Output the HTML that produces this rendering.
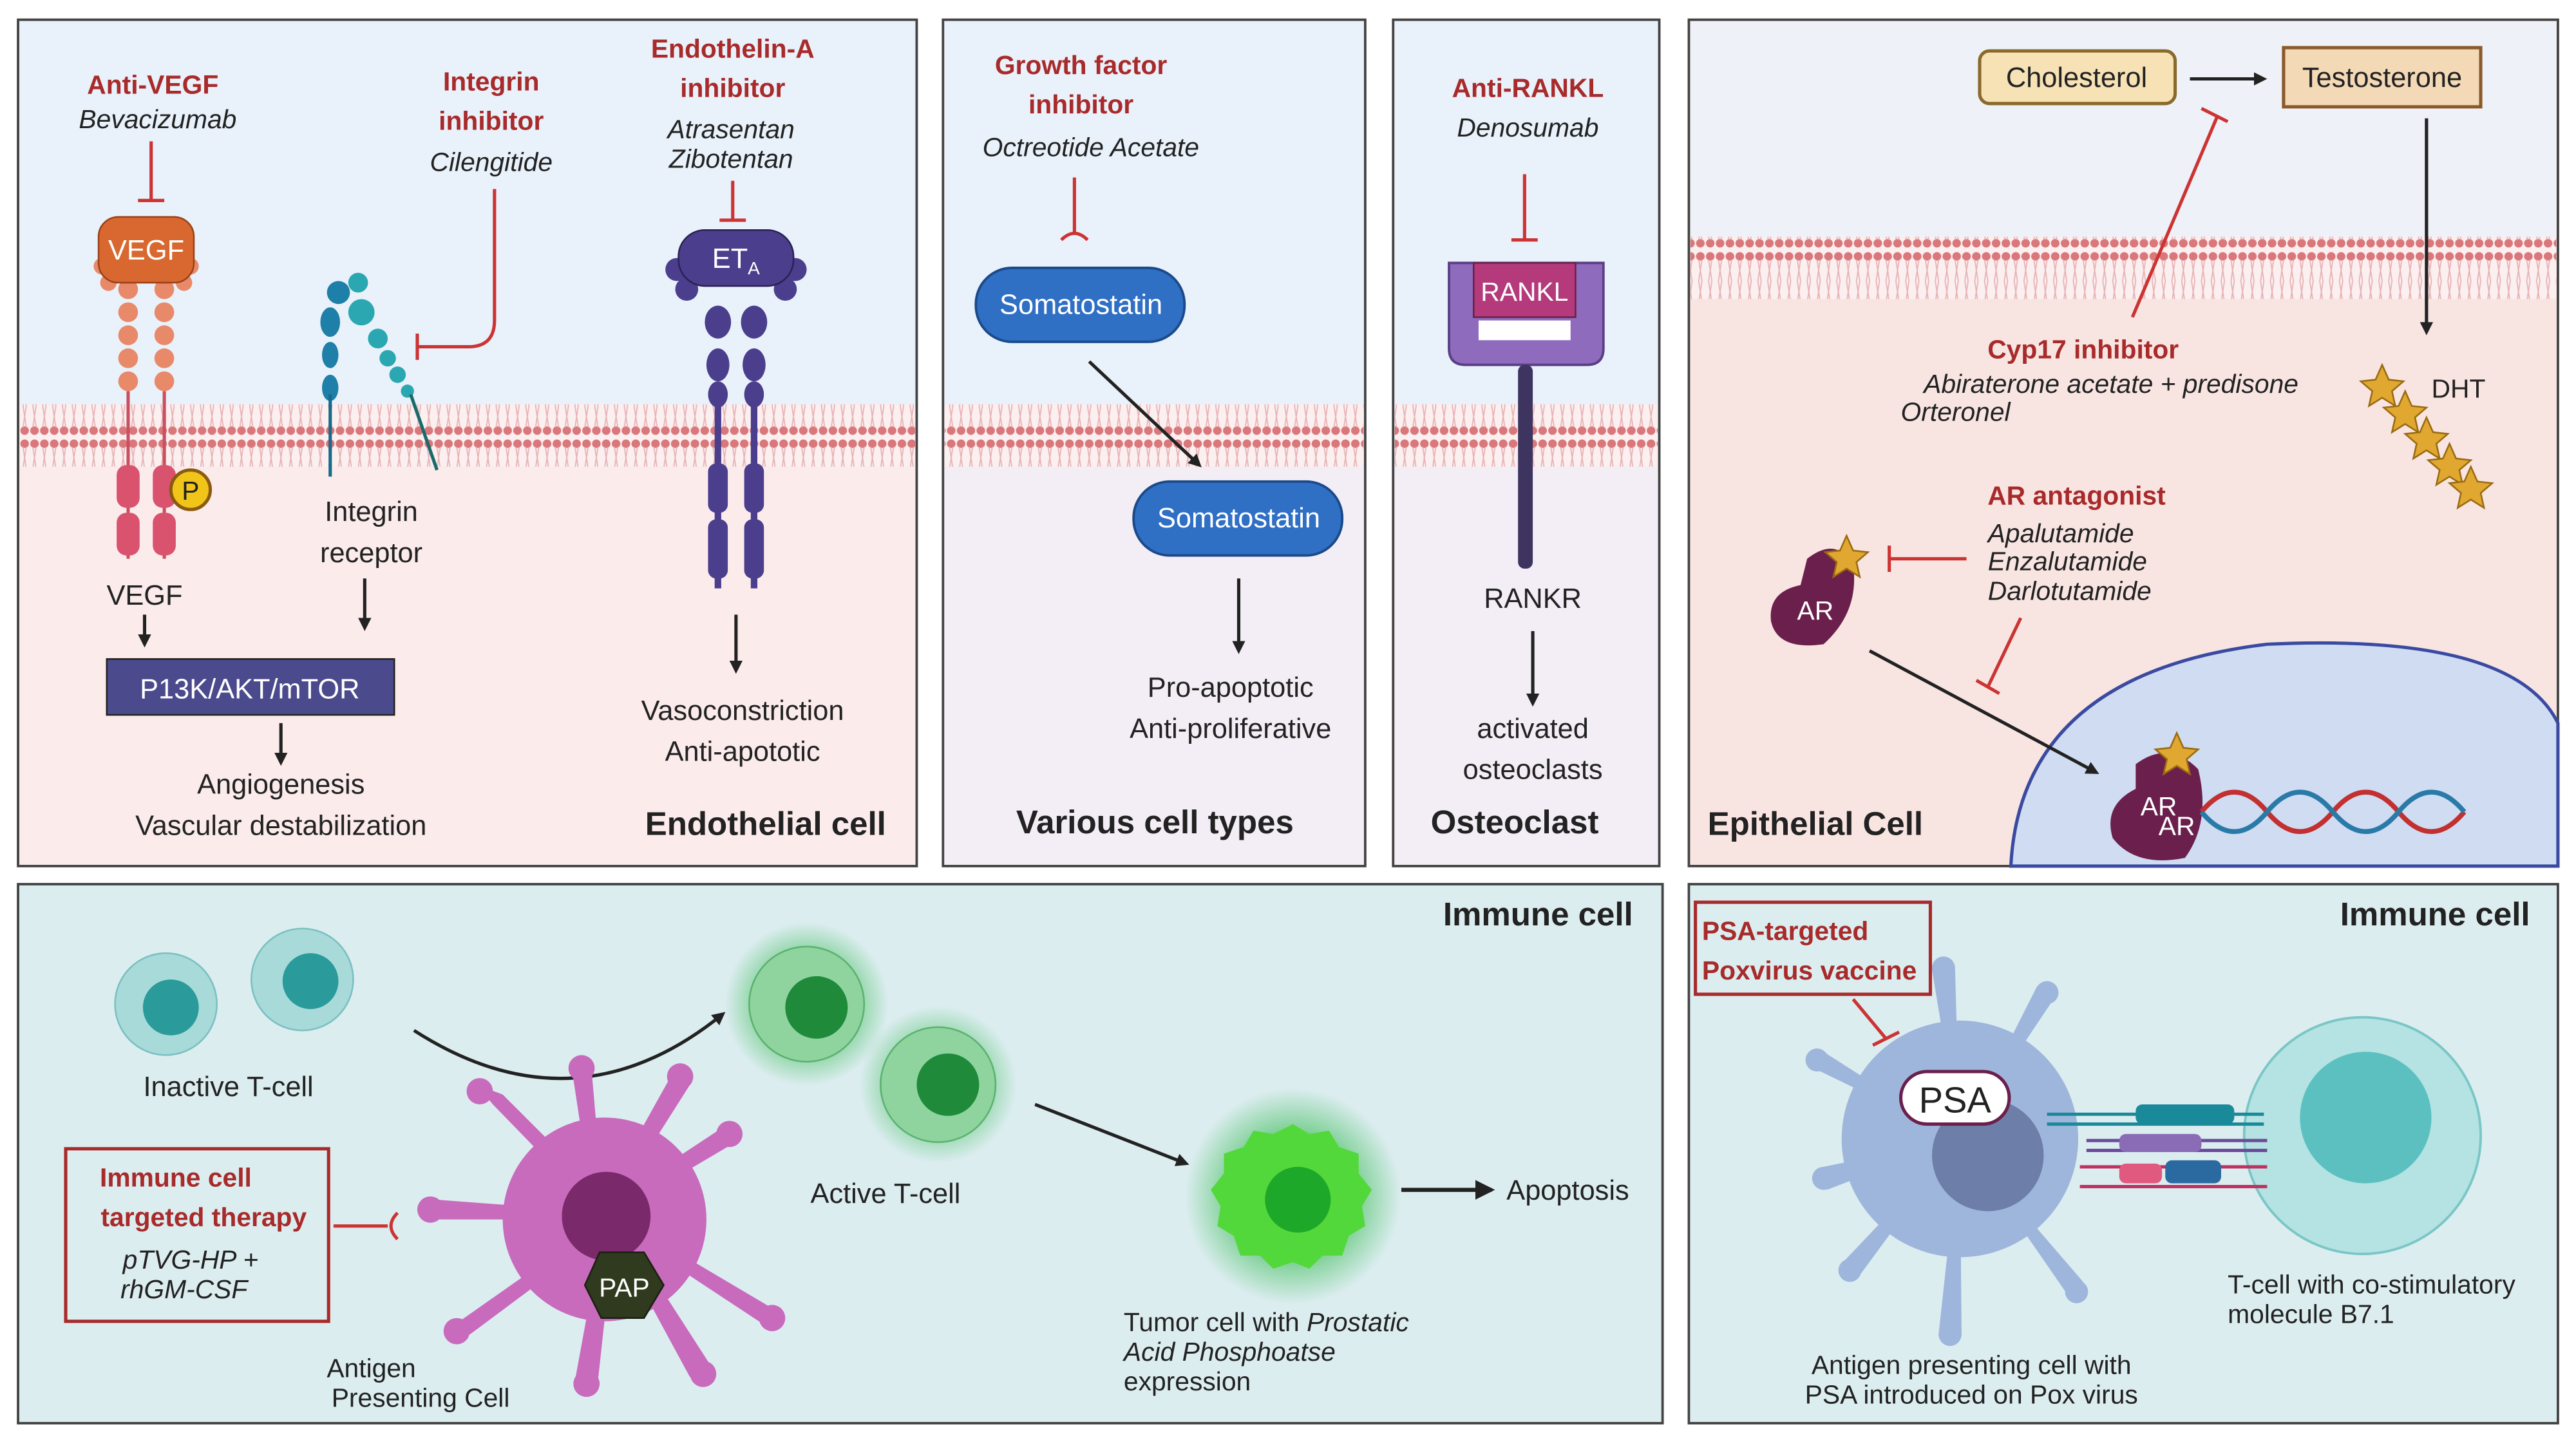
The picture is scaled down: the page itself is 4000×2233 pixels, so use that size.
<!DOCTYPE html>
<html><head><meta charset="utf-8"><style>
html,body{margin:0;padding:0;background:#fff}
svg{display:block}
text{font-family:"Liberation Sans",sans-serif}
.r{fill:#a82a2a;font-weight:bold;font-size:16px}
.i{font-style:italic;font-size:16px;fill:#222}
.t{font-size:17px;fill:#222}
.b{font-weight:bold;font-size:20px;fill:#222}
</style></head><body>
<svg width="4000" height="2233" viewBox="0 0 1568 875" preserveAspectRatio="none" xmlns="http://www.w3.org/2000/svg">
<defs>
<pattern id="mem" width="6" height="38" patternUnits="userSpaceOnUse">
<rect width="6" height="38" fill="#fbeff0"/>
<circle cx="3" cy="4" r="2.6" fill="#d9777a"/>
<circle cx="3" cy="34" r="2.6" fill="#d9777a"/>
<path d="M2 6 L4 19 L2 32 M4 6 L2 19 L4 32" stroke="#e7b3b5" stroke-width="0.7" fill="none"/>
</pattern>
<marker id="ah" markerWidth="8" markerHeight="8" refX="6" refY="4" orient="auto" markerUnits="userSpaceOnUse"><path d="M0 0 L8 4 L0 8 z" fill="#222"/></marker>
<marker id="ah2" markerWidth="12" markerHeight="12" refX="10" refY="6" orient="auto" markerUnits="userSpaceOnUse"><path d="M0 0 L12 6 L0 12 z" fill="#222"/></marker>
<radialGradient id="glow"><stop offset="0.6" stop-color="#2fb84a"/><stop offset="1" stop-color="#2fb84a" stop-opacity="0"/></radialGradient>
</defs>

<!-- Panel 1 -->
<rect x="11" y="12" width="547" height="515" fill="#fbebeb" stroke="#444" stroke-width="1.5"/>
<rect x="12" y="13" width="545" height="234" fill="#e9f1fa"/>
<rect x="12" y="246" width="545" height="38" fill="url(#mem)"/>
<!-- Panel 2 -->
<rect x="574" y="12" width="257" height="515" fill="#f3eef6" stroke="#444" stroke-width="1.5"/>
<rect x="575" y="13" width="255" height="234" fill="#e9f1fa"/>
<rect x="575" y="246" width="255" height="38" fill="url(#mem)"/>
<!-- Panel 3 -->
<rect x="848" y="12" width="162" height="515" fill="#f3eef6" stroke="#444" stroke-width="1.5"/>
<rect x="849" y="13" width="160" height="234" fill="#e9f1fa"/>
<rect x="849" y="246" width="160" height="38" fill="url(#mem)"/>
<!-- Panel 4 -->
<rect x="1028" y="12" width="529" height="515" fill="#f8e5e2" stroke="#444" stroke-width="1.5"/>
<rect x="1029" y="13" width="527" height="132" fill="#eef2f8"/>
<rect x="1029" y="144" width="527" height="38" fill="url(#mem)"/>
<!-- Bottom panels -->
<rect x="11" y="538" width="1001" height="328" fill="#dcedf0" stroke="#444" stroke-width="1.5"/>
<rect x="1028" y="538" width="529" height="328" fill="#dcedf0" stroke="#444" stroke-width="1.5"/>

<!-- Panel 1 content -->
<text x="93" y="57" class="r" text-anchor="middle">Anti-VEGF</text>
<text x="96" y="78" class="i" text-anchor="middle">Bevacizumab</text>
<path d="M92 86 V122 M84 122 H100" stroke="#c33" stroke-width="2"/>
<g fill="#e8896a">
<circle cx="78" cy="176" r="6"/><circle cx="78" cy="190" r="6"/><circle cx="78" cy="204" r="6"/><circle cx="78" cy="218" r="6"/><circle cx="78" cy="232" r="6"/>
<circle cx="100" cy="176" r="6"/><circle cx="100" cy="190" r="6"/><circle cx="100" cy="204" r="6"/><circle cx="100" cy="218" r="6"/><circle cx="100" cy="232" r="6"/>
<circle cx="62" cy="162" r="5"/><circle cx="116" cy="162" r="5"/><circle cx="66" cy="172" r="5"/><circle cx="112" cy="172" r="5"/>
</g>
<rect x="60" y="132" width="58" height="40" rx="12" fill="#d8682f" stroke="#9a4218"/>
<text x="89" y="158" font-size="17" fill="#fff" text-anchor="middle">VEGF</text>
<path d="M78 238 V340 M100 238 V340" stroke="#c85060" stroke-width="2"/>
<rect x="71" y="283" width="14" height="26" rx="6" fill="#d9536f"/><rect x="71" y="312" width="14" height="26" rx="6" fill="#d9536f"/>
<rect x="93" y="283" width="14" height="26" rx="6" fill="#d9536f"/><rect x="93" y="312" width="14" height="26" rx="6" fill="#d9536f"/>
<circle cx="116" cy="298" r="12" fill="#f0c419" stroke="#8a5a10" stroke-width="2"/>
<text x="116" y="304" font-size="16" text-anchor="middle" fill="#222">P</text>
<text x="88" y="368" class="t" text-anchor="middle">VEGF</text>
<line x1="88" y1="374" x2="88" y2="392" stroke="#222" stroke-width="2" marker-end="url(#ah)"/>
<text x="299" y="55" class="r" text-anchor="middle">Integrin</text>
<text x="299" y="79" class="r" text-anchor="middle">inhibitor</text>
<text x="299" y="104" class="i" text-anchor="middle">Cilengitide</text>
<path d="M301 115 V195 Q301 211 285 211 H254 M254 203 V219" stroke="#c33" stroke-width="2" fill="none"/>
<g fill="#1e7fa8"><circle cx="206" cy="178" r="7"/><ellipse cx="201" cy="196" rx="6" ry="9"/><ellipse cx="201" cy="216" rx="5" ry="8"/><ellipse cx="201" cy="236" rx="5" ry="8"/></g>
<line x1="201" y1="240" x2="201" y2="290" stroke="#176a8a" stroke-width="2"/>
<g fill="#2aa7b0"><circle cx="218" cy="172" r="6"/><circle cx="220" cy="190" r="8"/><circle cx="230" cy="206" r="6"/><circle cx="236" cy="218" r="5"/><circle cx="242" cy="228" r="5"/><circle cx="248" cy="238" r="4"/></g>
<line x1="250" y1="240" x2="266" y2="286" stroke="#1a6a6a" stroke-width="2"/>
<text x="226" y="317" class="t" text-anchor="middle">Integrin</text>
<text x="226" y="342" class="t" text-anchor="middle">receptor</text>
<line x1="222" y1="352" x2="222" y2="382" stroke="#222" stroke-width="2" marker-end="url(#ah)"/>
<rect x="65" y="401" width="175" height="34" fill="#4b4a8c" stroke="#222"/>
<text x="152" y="425" font-size="17" fill="#fff" text-anchor="middle">P13K/AKT/mTOR</text>
<line x1="171" y1="440" x2="171" y2="464" stroke="#222" stroke-width="2" marker-end="url(#ah)"/>
<text x="171" y="483" class="t" text-anchor="middle">Angiogenesis</text>
<text x="171" y="508" class="t" text-anchor="middle">Vascular destabilization</text>
<text x="446" y="35" class="r" text-anchor="middle">Endothelin-A</text>
<text x="446" y="59" class="r" text-anchor="middle">inhibitor</text>
<text x="445" y="84" class="i" text-anchor="middle">Atrasentan</text>
<text x="445" y="102" class="i" text-anchor="middle">Zibotentan</text>
<path d="M446 110 V134 M438 134 H454" stroke="#c33" stroke-width="2"/>
<g fill="#4b3e8c">
<circle cx="412" cy="164" r="7"/><circle cx="484" cy="164" r="7"/><circle cx="418" cy="176" r="7"/><circle cx="478" cy="176" r="7"/>
<ellipse cx="437" cy="196" rx="8" ry="10"/><ellipse cx="459" cy="196" rx="8" ry="10"/>
<ellipse cx="437" cy="222" rx="7" ry="10"/><ellipse cx="459" cy="222" rx="7" ry="10"/>
<ellipse cx="437" cy="240" rx="6" ry="8"/><ellipse cx="459" cy="240" rx="6" ry="8"/>
<rect x="431" y="282" width="12" height="30" rx="5"/><rect x="453" y="282" width="12" height="30" rx="5"/>
<rect x="431" y="316" width="12" height="36" rx="5"/><rect x="453" y="316" width="12" height="36" rx="5"/>
</g>
<path d="M437 240 V358 M459 240 V358" stroke="#4b3e8c" stroke-width="4"/>
<rect x="413" y="140" width="70" height="34" rx="16" fill="#4b3e8c" stroke="#2a2255"/>
<text x="448" y="163" font-size="17" fill="#fff" text-anchor="middle">ET<tspan font-size="11" dy="4">A</tspan></text>
<line x1="448" y1="374" x2="448" y2="408" stroke="#222" stroke-width="2" marker-end="url(#ah)"/>
<text x="452" y="438" class="t" text-anchor="middle">Vasoconstriction</text>
<text x="452" y="463" class="t" text-anchor="middle">Anti-apototic</text>
<text x="466" y="508" class="b" text-anchor="middle">Endothelial cell</text>

<!-- Panel 2 -->
<text x="658" y="45" class="r" text-anchor="middle">Growth factor</text>
<text x="658" y="69" class="r" text-anchor="middle">inhibitor</text>
<text x="664" y="95" class="i" text-anchor="middle">Octreotide Acetate</text>
<path d="M654 108 V143 M646 146 Q654 138 662 146" stroke="#c33" stroke-width="2" fill="none"/>
<rect x="594" y="163" width="127" height="45" rx="22" fill="#2f6fc4" stroke="#1a4a8a" stroke-width="1.5"/>
<text x="658" y="191" font-size="17" fill="#fff" text-anchor="middle">Somatostatin</text>
<line x1="663" y1="220" x2="730" y2="283" stroke="#222" stroke-width="2" marker-end="url(#ah)"/>
<rect x="690" y="293" width="127" height="45" rx="22" fill="#2f6fc4" stroke="#1a4a8a" stroke-width="1.5"/>
<text x="754" y="321" font-size="17" fill="#fff" text-anchor="middle">Somatostatin</text>
<line x1="754" y1="352" x2="754" y2="396" stroke="#222" stroke-width="2" marker-end="url(#ah)"/>
<text x="749" y="424" class="t" text-anchor="middle">Pro-apoptotic</text>
<text x="749" y="449" class="t" text-anchor="middle">Anti-proliferative</text>
<text x="703" y="507" class="b" text-anchor="middle">Various cell types</text>

<!-- Panel 3 -->
<text x="930" y="59" class="r" text-anchor="middle">Anti-RANKL</text>
<text x="930" y="83" class="i" text-anchor="middle">Denosumab</text>
<path d="M928 106 V146 M920 146 H936" stroke="#c33" stroke-width="2"/>
<path d="M882 160 H976 V212 Q976 222 966 222 H892 Q882 222 882 212 Z" fill="#8e6bbd" stroke="#5a3f85" stroke-width="1.5"/>
<rect x="900" y="195" width="56" height="12" fill="#fff"/>
<rect x="897" y="160" width="62" height="33" fill="#b43a7c" stroke="#6b2048"/>
<text x="928" y="183" font-size="16" fill="#fff" text-anchor="middle">RANKL</text>
<rect x="924" y="222" width="9" height="124" rx="4" fill="#3d3560"/>
<text x="933" y="370" class="t" text-anchor="middle">RANKR</text>
<line x1="933" y1="384" x2="933" y2="428" stroke="#222" stroke-width="2" marker-end="url(#ah)"/>
<text x="933" y="449" class="t" text-anchor="middle">activated</text>
<text x="933" y="474" class="t" text-anchor="middle">osteoclasts</text>
<text x="922" y="507" class="b" text-anchor="middle">Osteoclast</text>

<!-- Panel 4 -->
<rect x="1205" y="31" width="119" height="32" rx="6" fill="#f7e2b6" stroke="#8a6a2a" stroke-width="2"/>
<text x="1264" y="53" font-size="17" fill="#222" text-anchor="middle">Cholesterol</text>
<line x1="1333" y1="48" x2="1378" y2="48" stroke="#222" stroke-width="2" marker-end="url(#ah)"/>
<rect x="1390" y="29" width="120" height="36" fill="#f4d9b7" stroke="#8a5a2a" stroke-width="2"/>
<text x="1450" y="53" font-size="17" fill="#222" text-anchor="middle">Testosterone</text>
<line x1="1477" y1="72" x2="1477" y2="202" stroke="#222" stroke-width="2" marker-end="url(#ah)"/>
<path d="M1298 193 L1350 70 M1340 66 L1356 74" stroke="#c33" stroke-width="2"/>
<text x="1268" y="218" class="r" text-anchor="middle">Cyp17 inhibitor</text>
<text x="1285" y="239" class="i" text-anchor="middle">Abiraterone acetate + predisone</text>
<text x="1157" y="256" class="i">Orteronel</text>
<g fill="#e0a830" stroke="#9a6a10">
<polygon points="1450,222 1454,231 1463,232 1456,238 1458,247 1450,242 1442,247 1444,238 1437,232 1446,231"/>
<polygon points="1464,238 1468,247 1477,248 1470,254 1472,263 1464,258 1456,263 1458,254 1451,248 1460,247"/>
<polygon points="1477,254 1481,263 1490,264 1483,270 1485,279 1477,274 1469,279 1471,270 1464,264 1473,263"/>
<polygon points="1491,270 1495,279 1504,280 1497,286 1499,295 1491,290 1483,295 1485,286 1478,280 1487,279"/>
<polygon points="1504,284 1508,293 1517,294 1510,300 1512,309 1504,304 1496,309 1498,300 1491,294 1500,293"/>
</g>
<text x="1480" y="242" font-size="16" fill="#222">DHT</text>
<text x="1264" y="307" class="r" text-anchor="middle">AR antagonist</text>
<text x="1210" y="330" class="i">Apalutamide</text>
<text x="1210" y="347" class="i">Enzalutamide</text>
<text x="1210" y="365" class="i">Darlotutamide</text>
<path d="M1197 340 H1150 M1150 332 V348" stroke="#c33" stroke-width="2"/>
<path d="M1230 376 L1210 418 M1203 414 L1217 422" stroke="#c33" stroke-width="2"/>
<path d="M1100 340 Q1118 326 1128 344 Q1132 372 1110 392 Q1082 396 1078 378 Q1076 360 1096 356 Z" fill="#6b1f4c"/>
<polygon points="1124,326 1128,335 1137,336 1130,342 1132,351 1124,346 1116,351 1118,342 1111,336 1120,335" fill="#e0a830" stroke="#9a6a10"/>
<text x="1105" y="377" font-size="16" fill="#fff" text-anchor="middle">AR</text>
<path d="M1224 527 Q1230 410 1380 392 Q1530 385 1557 440 V527 Z" fill="#cfdcf2" stroke="#3a4aa0" stroke-width="2"/>
<line x1="1138" y1="396" x2="1276" y2="470" stroke="#222" stroke-width="2" marker-end="url(#ah)"/>
<path d="M1300 465 Q1320 450 1338 468 Q1346 500 1330 522 Q1300 528 1286 510 Q1280 490 1300 480 Z" fill="#6b1f4c"/>
<polygon points="1325,446 1329,455 1338,456 1331,462 1333,471 1325,466 1317,471 1319,462 1312,456 1321,455" fill="#e0a830" stroke="#9a6a10"/>
<text x="1314" y="496" font-size="16" fill="#fff" text-anchor="middle">AR</text>
<text x="1325" y="508" font-size="16" fill="#fff" text-anchor="middle">AR</text>
<path d="M1340 494 Q1360 470 1380 494 T1420 494 T1460 494 T1500 494" stroke="#c23030" stroke-width="3" fill="none"/>
<path d="M1340 494 Q1360 518 1380 494 T1420 494 T1460 494 T1500 494" stroke="#2a7aa8" stroke-width="3" fill="none"/>
<text x="1105" y="508" class="b" text-anchor="middle">Epithelial Cell</text>

<!-- Bottom left -->
<text x="994" y="563" class="b" text-anchor="end">Immune cell</text>
<circle cx="101" cy="611" r="31" fill="#a8dada" stroke="#7ac0c0"/><circle cx="104" cy="613" r="17" fill="#2a9a9a"/>
<circle cx="184" cy="596" r="31" fill="#a8dada" stroke="#7ac0c0"/><circle cx="189" cy="597" r="17" fill="#2a9a9a"/>
<text x="139" y="667" class="t" text-anchor="middle">Inactive T-cell</text>
<path d="M252 627 Q350 690 440 617" stroke="#222" stroke-width="2" fill="none" marker-end="url(#ah)"/>
<circle cx="491" cy="611" r="50" fill="url(#glow)" opacity="0.5"/>
<circle cx="491" cy="611" r="35" fill="#8fd49f" stroke="#5ab26e"/><circle cx="497" cy="613" r="19" fill="#1e8a3a"/>
<circle cx="571" cy="660" r="48" fill="url(#glow)" opacity="0.45"/>
<circle cx="571" cy="660" r="35" fill="#8fd49f" stroke="#5ab26e"/><circle cx="577" cy="660" r="19" fill="#1e8a3a"/>
<text x="539" y="732" class="t" text-anchor="middle">Active T-cell</text>
<line x1="630" y1="672" x2="722" y2="708" stroke="#222" stroke-width="2" marker-end="url(#ah)"/>
<circle cx="787" cy="728" r="66" fill="url(#glow)" opacity="0.55"/>
<path d="M787 684 l10 6 l12 -2 l6 10 l12 4 l0 12 l8 10 l-6 10 l2 12 l-10 6 l-4 12 l-12 0 l-8 8 l-10 -4 l-12 4 l-8 -8 l-12 0 l-4 -12 l-10 -6 l2 -12 l-6 -10 l8 -10 l0 -12 l12 -4 l6 -10 l12 2 z" fill="#52d83a"/>
<circle cx="790" cy="730" r="20" fill="#1ea82a"/>
<line x1="853" y1="724" x2="908" y2="724" stroke="#222" stroke-width="2.5" marker-end="url(#ah2)"/>
<text x="917" y="730" class="t">Apoptosis</text>
<text x="684" y="810" font-size="16" fill="#222">Tumor cell with <tspan font-style="italic">Prostatic</tspan></text>
<text x="684" y="828" font-size="16" fill="#222" font-style="italic">Acid Phosphoatse</text>
<text x="684" y="846" font-size="16" fill="#222">expression</text>
<g fill="#c86bbd">
<circle cx="368" cy="742" r="62"/>
<path d="M368 742 L300 672 L290 660 L306 666 L380 740 Z"/>
<path d="M368 742 L262 742 L266 730 L372 738 Z"/>
<path d="M368 742 L274 808 L286 812 L372 748 Z"/>
<path d="M368 742 L350 840 L364 840 L374 748 Z"/>
<path d="M368 742 L420 838 L432 830 L374 740 Z"/>
<path d="M368 742 L468 808 L470 796 L372 738 Z"/>
<path d="M368 742 L446 696 L440 686 L364 736 Z"/>
<path d="M368 742 L420 660 L410 652 L362 738 Z"/>
<path d="M368 742 L360 650 L348 650 L362 742 Z"/>
<circle cx="292" cy="664" r="8"/><circle cx="262" cy="736" r="8"/><circle cx="278" cy="810" r="8"/><circle cx="357" cy="842" r="8"/><circle cx="428" cy="836" r="8"/><circle cx="470" cy="802" r="8"/><circle cx="444" cy="690" r="8"/><circle cx="414" cy="655" r="8"/><circle cx="354" cy="650" r="8"/>
</g>
<circle cx="369" cy="740" r="27" fill="#7a2a6a"/>
<path d="M365 762 L392 762 L404 782 L392 802 L366 802 L356 782 Z" fill="#2f3a1e" stroke="#1a2010"/>
<text x="380" y="789" font-size="16" fill="#fff" text-anchor="middle">PAP</text>
<text x="226" y="838" font-size="16" fill="#222" text-anchor="middle">Antigen</text>
<text x="256" y="856" font-size="16" fill="#222" text-anchor="middle">Presenting Cell</text>
<rect x="40" y="699" width="160" height="105" fill="none" stroke="#a82a2a" stroke-width="2"/>
<text x="107" y="722" class="r" text-anchor="middle">Immune cell</text>
<text x="124" y="746" class="r" text-anchor="middle">targeted therapy</text>
<text x="116" y="772" class="i" text-anchor="middle">pTVG-HP +</text>
<text x="112" y="790" class="i" text-anchor="middle">rhGM-CSF</text>
<path d="M203 746 H236 M242 738 Q234 746 242 754" stroke="#c33" stroke-width="2" fill="none"/>

<!-- Bottom right -->
<text x="1540" y="563" class="b" text-anchor="end">Immune cell</text>
<circle cx="1438" cy="691" r="72" fill="#b5e2e2" stroke="#7ac6c6" stroke-width="1.5"/>
<circle cx="1440" cy="680" r="40" fill="#5cc0c0"/>
<g fill="#9eb6dc">
<circle cx="1193" cy="693" r="72"/>
<path d="M1193 693 L1110 640 L1104 650 Z M1193 693 L1110 710 L1112 724 Z M1193 693 L1120 770 L1132 776 Z M1193 693 L1180 812 L1194 812 Z M1193 693 L1260 790 L1268 780 Z M1193 693 L1176 590 L1190 588 Z M1193 693 L1240 600 L1250 608 Z"/>
<circle cx="1106" cy="645" r="7"/><circle cx="1110" cy="717" r="7"/><circle cx="1126" cy="773" r="7"/><circle cx="1187" cy="812" r="7"/><circle cx="1264" cy="786" r="7"/><circle cx="1183" cy="589" r="7"/><circle cx="1246" cy="604" r="7"/>
</g>
<circle cx="1210" cy="703" r="34" fill="#6d7ea8"/>
<rect x="1157" y="652" width="66" height="32" rx="16" fill="#fff" stroke="#6b1f4c" stroke-width="2"/>
<text x="1190" y="677" font-size="22" fill="#222" text-anchor="middle">PSA</text>
<g stroke-width="2">
<path d="M1246 678 H1378 M1246 684 H1378" stroke="#1a8a9a"/>
<rect x="1300" y="672" width="60" height="12" rx="4" fill="#1a8a9a"/>
<path d="M1270 694 H1380 M1270 700 H1380" stroke="#6b4c9a"/>
<rect x="1290" y="690" width="50" height="11" rx="4" fill="#8a6bb6"/>
<path d="M1266 710 H1380 M1266 722 H1380" stroke="#c03060"/>
<rect x="1290" y="708" width="26" height="12" rx="4" fill="#e05a80"/>
<rect x="1318" y="706" width="34" height="14" rx="4" fill="#2a6aa0"/>
</g>
<text x="1356" y="787" font-size="16" fill="#222">T-cell with co-stimulatory</text>
<text x="1356" y="805" font-size="16" fill="#222">molecule B7.1</text>
<text x="1200" y="836" font-size="16" fill="#222" text-anchor="middle">Antigen presenting cell with</text>
<text x="1200" y="854" font-size="16" fill="#222" text-anchor="middle">PSA introduced on Pox virus</text>
<rect x="1032" y="549" width="143" height="56" fill="#dcedf0" stroke="#a82a2a" stroke-width="2"/>
<text x="1036" y="572" class="r">PSA-targeted</text>
<text x="1036" y="596" class="r">Poxvirus vaccine</text>
<path d="M1128 608 L1148 632 M1140 636 L1156 628" stroke="#c33" stroke-width="2"/>
</svg>
</body></html>
